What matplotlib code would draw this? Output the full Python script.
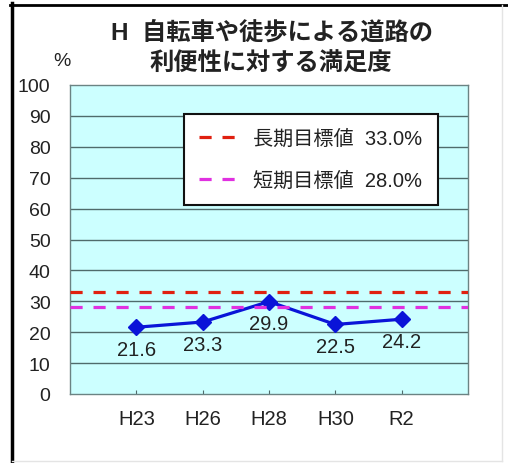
import numpy as np
from matplotlib import pyplot as plt
from matplotlib import lines

plt.rcParams['font.family'] = ['Liberation Sans', 'Noto Sans CJK JP', 'DejaVu Sans']

# Data
years = ['H23', 'H26', 'H28', 'H30', 'R2']
satisfaction = [21.6, 23.3, 29.9, 22.5, 24.2]
long_target = 33.0
short_target = 28.0
title_lines = ['H  自転車や徒歩による道路の', '利便性に対する満足度']
y_ticks = list(range(0, 101, 10))

fig = plt.figure(figsize=(5.08, 4.64), dpi=100)
ax = fig.add_axes([70 / 508, 69 / 464, 398 / 508, 309 / 464])
ax.set_facecolor('#ccffff')

x = np.arange(1, len(years) + 1)

# Grid lines
for v in y_ticks[1:-1]:
    ax.axhline(v, color='#4f6b6b', lw=1.0, zorder=1)

# Data line
ax.plot(x, satisfaction, color='#0a14d8', lw=2.3, marker='D', markersize=8.5,
        zorder=3)
for xi, yi in zip(x, satisfaction):
    ax.annotate(f'{yi:.1f}', (xi, yi), xytext=(0, -16), textcoords='offset points',
                ha='center', va='center', fontsize=14.5, color='#222222', zorder=5)

# Target lines
ax.axhline(long_target, color='#e02010', lw=2.3, dashes=(3.8, 3.4), zorder=4,
           label=f'長期目標値  {long_target:.1f}%')
ax.axhline(short_target, color='#e030e0', lw=2.3, dashes=(3.8, 3.4), zorder=4,
           label=f'短期目標値  {short_target:.1f}%')

ax.set_xlim(0, len(years) + 1)
ax.set_ylim(0, 100)
ax.set_yticks(y_ticks)
ax.set_xticks(x)
ax.set_xticklabels(years, fontsize=14.5, color='#222222')
ax.tick_params(axis='y', length=0, pad=14, labelsize=14, labelcolor='#222222')
ax.tick_params(axis='x', direction='in', length=3, pad=11, color='#4f6b6b')
for s in ax.spines.values():
    s.set_color('#6b8383')
    s.set_linewidth(1.0)

leg = ax.legend(loc='upper left', bbox_to_anchor=(184 / 508, 1 - 115 / 464),
                bbox_transform=fig.transFigure, fontsize=14.5, frameon=True,
                fancybox=False, framealpha=1, edgecolor='#111111',
                handlelength=2.0, handletextpad=0.7, labelspacing=1.1,
                borderpad=0.75, borderaxespad=0)
leg.get_frame().set_linewidth(1.5)
for t in leg.get_texts():
    t.set_color('#222222')

# Titles
fig.text(272 / 508, 1 - 33 / 464, title_lines[0], ha='center', va='center',
         fontsize=17.5, fontweight='bold', color='#222222')
fig.text(271 / 508, 1 - 64 / 464, title_lines[1], ha='center', va='center',
         fontsize=17.5, fontweight='bold', color='#222222')
fig.text(62 / 508, 1 - 62 / 464, '%', ha='center', va='center', fontsize=14,
         color='#222222')

# Outer frame
fig.add_artist(lines.Line2D([11.5 / 508, 11.5 / 508], [0, 1 - 4 / 464], color='black',
                            lw=2.5, transform=fig.transFigure))
fig.add_artist(lines.Line2D([10 / 508, 1], [1 - 5.5 / 464, 1 - 5.5 / 464], color='black',
                            lw=2.0, transform=fig.transFigure))
fig.add_artist(lines.Line2D([502 / 508, 502 / 508], [2 / 464, 1 - 6 / 464],
                            color='#e4e4e4', lw=1.0, transform=fig.transFigure))
fig.add_artist(lines.Line2D([12 / 508, 502 / 508], [2 / 464, 2 / 464],
                            color='#e4e4e4', lw=1.0, transform=fig.transFigure))

plt.savefig('out.png', dpi=100)
plt.close(fig)
